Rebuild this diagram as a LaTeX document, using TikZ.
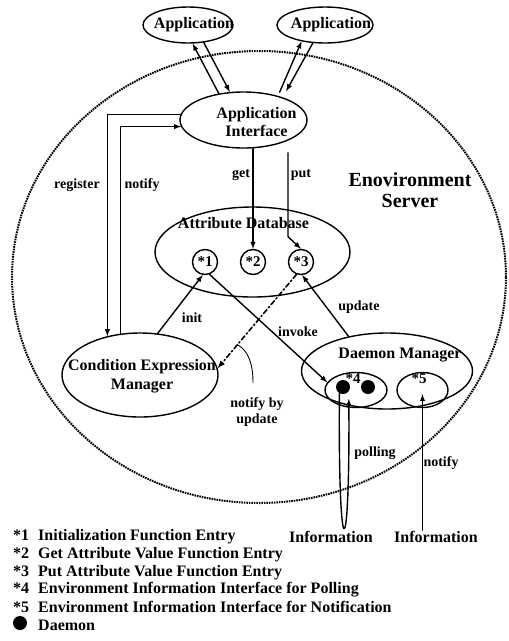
\documentclass[tikz,border=0pt]{standalone}
\usepackage{fontspec}
\setmainfont{Liberation Serif}
\usetikzlibrary{arrows,calc,positioning,shapes}
\tikzset{>=latex}

\begin{document}
\begin{tikzpicture}[line cap=round,line join=round,x=1pt,y=-1pt,
  oval/.style={draw,ellipse,line width=1.4pt,inner sep=0pt},
  entry/.style={draw,circle,line width=1.4pt,minimum size=25pt,inner sep=0pt,font=\fontsize{15}{15}\selectfont\bfseries},
  daemon/.style={fill,circle,minimum size=14pt,inner sep=0pt},
  ttl/.style={font=\fontsize{16}{18.5}\selectfont\bfseries,align=center,inner sep=1pt},
  lbl/.style={font=\fontsize{14}{16}\selectfont\bfseries,align=center,inner sep=1pt},
  link/.style={line width=1.4pt,->},
  keytext/.style={font=\fontsize{16}{17.5}\selectfont\bfseries,anchor=west,inner sep=0pt}]
\useasboundingbox (0,0) rectangle (509,641);
% server
\node[oval,line width=2pt,dash pattern=on 1.6pt off 0.9pt,line cap=butt,minimum width=494pt,minimum height=452pt] (server) at (259,277) {};
\node[font=\fontsize{20}{21}\selectfont\bfseries,align=center] (srvname) at (410,190) {Enovironment\\Server};
% applications
\node[oval,minimum width=90pt,minimum height=36pt,label={[ttl,xshift=6pt]center:Application}] (app1) at (188,25) {};
\node[oval,minimum width=96pt,minimum height=36pt,label={[ttl,xshift=6pt]center:Application}] (app2) at (325,25) {};
\node[oval,minimum width=127pt,minimum height=56pt,label={[ttl,xshift=13pt,yshift=-2pt]center:Application\\Interface}] (appif) at (243.5,120) {};
% attribute database
\node[oval,minimum width=195pt,minimum height=90pt,label={[ttl,xshift=-9pt,yshift=29pt]center:Attribute Database}] (attrdb) at (252.5,252) {};
\node[entry] (c1) at (205,262) {*1};
\node[entry] (c2) at (253,262) {*2};
\node[entry] (c3) at (301,262) {*3};
% managers
\node[oval,minimum width=156pt,minimum height=84pt,label={[ttl,xshift=2pt,yshift=-1pt]center:Condition Expression\\Manager}] (cem) at (140,375) {};
\node[oval,minimum width=171pt,minimum height=76pt,label={[ttl,xshift=13pt,yshift=16pt]center:Daemon Manager}] (dm) at (387,371) {};
\node[oval,minimum width=62pt,minimum height=35pt,label={[lbl,font=\fontsize{15}{15}\selectfont\bfseries,xshift=-3pt,yshift=11pt]center:*4}] (p4) at (356,390) {};
\node[oval,minimum width=51pt,minimum height=35pt,label={[lbl,font=\fontsize{15}{15}\selectfont\bfseries,xshift=-3.5pt,yshift=11pt]center:*5}] (p5) at (422.5,390) {};
\node[daemon] (d1) at (343,387) {};
\node[daemon] (d2) at (368,387) {};
% labels
\node[lbl] (reglbl) at (77,185) {register};
\node[lbl] (ntflbl) at (142,185) {notify};
\node[lbl] (getlbl) at (241,175) {get};
\node[lbl] (putlbl) at (301,175) {put};
\node[lbl] (initlbl) at (192,318) {init};
\node[lbl] (invlbl) at (298,332) {invoke};
\node[lbl] (updlbl) at (359,307) {update};
\node[lbl] (nbulbl) at (257,412) {notify by\\update};
\node[lbl] (pollbl) at (375,453) {polling};
\node[lbl] (ntf2lbl) at (441,463) {notify};
\node[ttl] (info1) at (331,537) {Information};
\node[ttl] (info2) at (436,537) {Information};
% connectors
\draw[link] (appif.133) -- (app1.-76);
\draw[link] (app1.-48) -- (appif.116);
\draw[link,shorten <=4pt] (appif.35) -- (app2.-145);
\draw[link,shorten >=7pt] (app2.-124) -- (appif.30);
\draw[link] (appif.175) -| (cem.130);
\draw[link] (cem.115) |- (appif.186);
\draw[link] (c2 |- appif.south) -- (c2.north);
\draw[link] ($(appif.south)+(44.5,4)$) -- ++(0,84) -- (c3.north);
\draw[link] (cem.67) -- (c1.260);
\draw[link] (c1.290) -- (p4.165);
\draw[link] (dm.138) -- (c3.-85);
\draw[link,line width=1.6pt,dash pattern=on 5pt off 2.5pt on 1.5pt off 2.5pt] (c3.250) -- coordinate[pos=0.75] (nbupt) (cem.5);
\draw[line width=0.9pt] (nbupt) .. controls +(10,5) and +(0,-20) .. ([xshift=-4pt,yshift=14pt]nbulbl.north);
\draw[link] (d1.240) .. controls (338,572) and (350,572) .. ([yshift=9pt]p4.248);
\draw[link] (p5 |- info2.north) -- ([yshift=14pt]p5.south);
% key
\node[keytext] (k1) at (13,537) {\makebox[25pt][l]{*1}Initialization Function Entry};
\node[keytext] (k2) at (13,555) {\makebox[25pt][l]{*2}Get Attribute Value Function Entry};
\node[keytext] (k3) at (13,573) {\makebox[25pt][l]{*3}Put Attribute Value Function Entry};
\node[keytext] (k4) at (13,590) {\makebox[25pt][l]{*4}Environment Information Interface for Polling};
\node[keytext] (k5) at (13,607) {\makebox[25pt][l]{*5}Environment Information Interface for Notification};
\node[daemon] (kdot) at (20,623) {};
\node[keytext] (kd) at (38,625) {Daemon};
\end{tikzpicture}
\end{document}
